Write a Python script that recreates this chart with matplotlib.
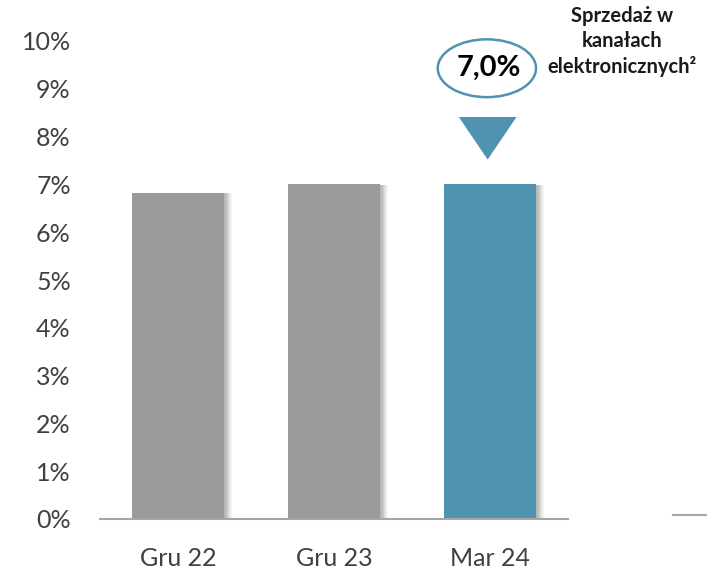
import matplotlib.pyplot as plt
from matplotlib.patches import Ellipse, Polygon
from matplotlib.lines import Line2D

plt.rcParams['font.family'] = ['Lato', 'DejaVu Sans']

categories = ['Gru 22', 'Gru 23', 'Mar 24']
values = [6.83, 7.0, 7.0]
colors = ['#9a9a9a', '#9a9a9a', '#4f93b1']
yticks = list(range(0, 11))
callout = '7,0%'
title = 'Sprzedaż w\nkanałach\nelektronicznych²'

fig = plt.figure(figsize=(7.07, 5.73), dpi=100)
ax = fig.add_axes([100/707, 1 - 519/573, 468/707, 478/573])

x = list(range(len(categories)))
w = 0.585

# soft shadow to the right of each bar
for k in range(6):
    off = 0.012 + k * 0.008
    ax.bar([i + off for i in x], [v - 0.02 for v in values], width=w, color='#000000',
           alpha=0.05, zorder=1, linewidth=0)
ax.bar(x, values, width=w, color=colors, zorder=3, linewidth=0)

ax.set_xlim(-0.5, 2.5)
ax.set_ylim(0, 10)
ax.set_yticks(yticks)
ax.set_yticklabels([f'{t}%' for t in yticks])
ax.set_xticks(x)
ax.set_xticklabels(categories)
ax.tick_params(axis='both', length=0, labelsize=18, labelcolor='#404040')
ax.tick_params(axis='y', pad=21)
ax.tick_params(axis='x', pad=20)
for s in ['top', 'right', 'left']:
    ax.spines[s].set_visible(False)
ax.spines['bottom'].set_color('#a6a6a6')
ax.spines['bottom'].set_linewidth(1.5)
ax.spines['bottom'].set_zorder(4)

# callout ellipse and arrow over the last bar
ax.add_patch(Ellipse((1.98, 9.43), 0.63, 1.21, facecolor='white', edgecolor='#4f93b1',
                     linewidth=1.8, clip_on=False, zorder=5))
ax.text(1.99, 9.43, callout, ha='center', va='center', fontsize=21, fontweight='bold',
        color='#000000', zorder=6)
ax.add_patch(Polygon([[1.80, 8.41], [2.17, 8.41], [1.985, 7.52]], closed=True,
                     facecolor='#4f93b1', edgecolor='none', clip_on=False, zorder=5))

fig.text(622/707, 1 - 6/573, title, ha='center', va='top', fontsize=14.5,
         fontweight='bold', color='#1a1a1a', linespacing=1.3)

fig.add_artist(Line2D([673/707, 1.0], [1 - 515/573, 1 - 515/573], color='#a6a6a6',
                      linewidth=1.5))

fig.savefig('out.png', dpi=100)
